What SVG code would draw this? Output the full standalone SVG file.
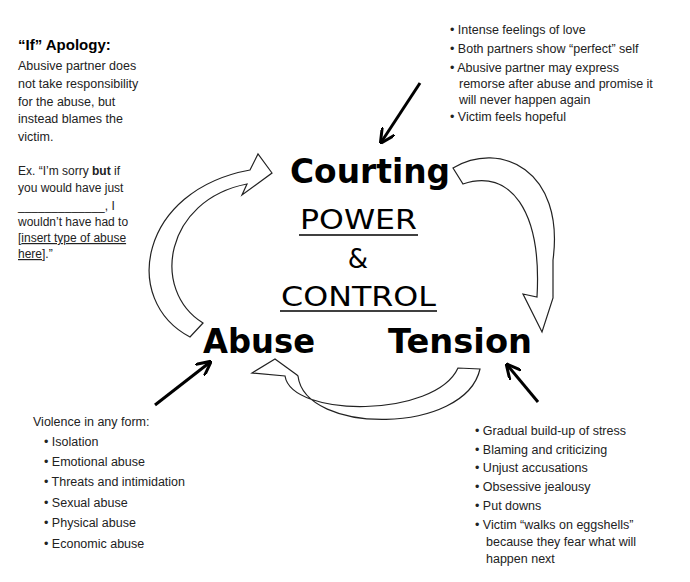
<svg xmlns="http://www.w3.org/2000/svg" width="690" height="582" viewBox="0 0 690 582">
<defs>
<style>
.t{font-family:"Liberation Sans",Arial,sans-serif;font-size:12.5px;fill:#222}
.big{font-family:"DejaVu Sans",Verdana,sans-serif;font-weight:bold;font-size:33px;fill:#000}
.mid{font-family:"DejaVu Sans",Verdana,sans-serif;font-size:26px;fill:#000}
.blk{fill:#fff;stroke:#222;stroke-width:1.2;stroke-linejoin:miter}
.ln{stroke:#000;stroke-width:3;fill:none}
</style>
<marker id="ah" viewBox="0 0 10 10" refX="8" refY="5" markerWidth="5" markerHeight="5" orient="auto"><path d="M0,0 L10,5 L0,10" fill="none" stroke="#000" stroke-width="2"/></marker>
</defs>
<rect width="690" height="582" fill="#fff"/>
<g id="connectors">
<path class="blk" d="M190,337 C120,300 140,190 250,170 L258,154 L272,173 L242,195 L247,184 C165,200 150,290 203,323 Z"/>
<path class="blk" d="M453,168 C500,140 565,170 553,260 L553,298 L542,332 L523,294 L537,297 C542,210 510,168 463,184 Z"/>
<path class="blk" d="M480,369 C465,435 305,435 298,376 L297,375 L275,359 L252,373 L285,376 C292,418 435,418 458,368 Z"/>
<line class="ln" x1="420" y1="83" x2="382" y2="141" marker-end="url(#ah)"/>
<line class="ln" x1="155" y1="405" x2="209" y2="363" marker-end="url(#ah)"/>
<line class="ln" x1="538" y1="402" x2="508" y2="366" marker-end="url(#ah)"/>
</g>
<g id="courting"><text class="big" x="290" y="183" textLength="160" lengthAdjust="spacingAndGlyphs">Courting</text></g>
<g id="abuse"><text class="big" x="203" y="353" textLength="112" lengthAdjust="spacingAndGlyphs">Abuse</text></g>
<g id="tension"><text class="big" x="388" y="353" textLength="144" lengthAdjust="spacingAndGlyphs">Tension</text></g>
<g id="center">
<text class="mid" x="300" y="229" textLength="117" lengthAdjust="spacingAndGlyphs">POWER</text>
<line x1="299" y1="235" x2="418" y2="235" stroke="#000" stroke-width="1.5"/>
<text class="mid" x="358" y="268" text-anchor="middle">&amp;</text>
<text class="mid" x="281" y="306" textLength="155" lengthAdjust="spacingAndGlyphs">CONTROL</text>
<line x1="280" y1="311" x2="437" y2="311" stroke="#000" stroke-width="1.5"/>
</g>
<g id="apology" class="t">
<text x="18" y="50" style="font-weight:bold;font-size:15px;fill:#000">“If” Apology:</text>
<text x="18" y="70">Abusive partner does</text>
<text x="18" y="88">not take responsibility</text>
<text x="18" y="106">for the abuse, but</text>
<text x="18" y="123">instead blames the</text>
<text x="18" y="141">victim.</text>
<text x="18" y="175" style="font-size:12px">Ex. “I’m sorry <tspan font-weight="bold">but</tspan> if</text>
<text x="18" y="192" style="font-size:12px">you would have just</text>
<text x="18" y="210" style="font-size:12px">_____________, I</text>
<text x="18" y="226" style="font-size:12px">wouldn’t have had to</text>
<text x="18" y="242" style="font-size:12px">[<tspan text-decoration="underline">insert type of abuse</tspan></text>
<text x="18" y="258" style="font-size:12px"><tspan text-decoration="underline">here</tspan>].”</text>
</g>
<g id="courting-notes" class="t">
<text x="450" y="34">• Intense feelings of love</text>
<text x="450" y="53">• Both partners show “perfect” self</text>
<text x="450" y="72">• Abusive partner may express</text>
<text x="459" y="88">remorse after abuse and promise it</text>
<text x="459" y="104">will never happen again</text>
<text x="450" y="121">• Victim feels hopeful</text>
</g>
<g id="abuse-notes" class="t">
<text x="33" y="426">Violence in any form:</text>
<text x="44" y="446">• Isolation</text>
<text x="44" y="466">• Emotional abuse</text>
<text x="44" y="486">• Threats and intimidation</text>
<text x="44" y="507">• Sexual abuse</text>
<text x="44" y="527">• Physical abuse</text>
<text x="44" y="548">• Economic abuse</text>
</g>
<g id="tension-notes" class="t">
<text x="475" y="435">• Gradual build-up of stress</text>
<text x="475" y="454">• Blaming and criticizing</text>
<text x="475" y="472">• Unjust accusations</text>
<text x="475" y="491">• Obsessive jealousy</text>
<text x="475" y="510">• Put downs</text>
<text x="475" y="529">• Victim “walks on eggshells”</text>
<text x="486" y="546">because they fear what will</text>
<text x="486" y="563">happen next</text>
</g>
</svg>
